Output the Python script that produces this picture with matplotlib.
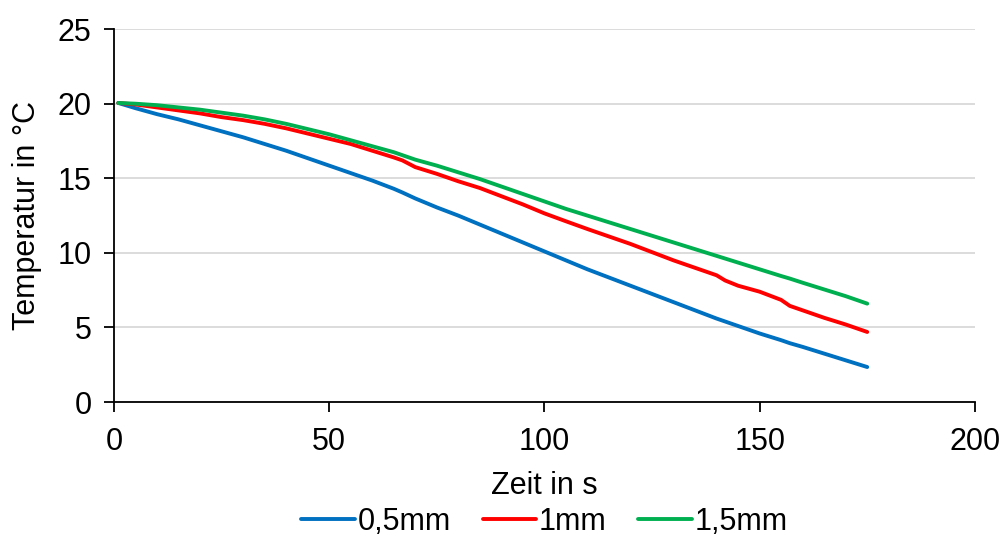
import matplotlib
matplotlib.use("Agg")
import matplotlib.pyplot as plt

plt.rcParams['font.family'] = ['Liberation Sans', 'DejaVu Sans']

# Time in seconds
zeit = [1, 5, 10, 15, 20, 25, 30, 35, 40, 45, 50, 55, 60, 65, 67, 70, 75, 80, 85,
        90, 95, 100, 105, 110, 115, 120, 125, 130, 135, 140, 142, 145, 150, 155,
        157, 160, 165, 170, 175]

# Temperatures in °C for each plate thickness
temp_05 = [20.05, 19.7, 19.3, 18.95, 18.55, 18.15, 17.75, 17.3, 16.85, 16.35, 15.85,
           15.35, 14.85, 14.3, 14.05, 13.65, 13.05, 12.5, 11.9, 11.3, 10.7, 10.1,
           9.5, 8.9, 8.35, 7.8, 7.25, 6.7, 6.15, 5.6, 5.4, 5.1, 4.6, 4.15, 3.95,
           3.7, 3.25, 2.8, 2.35]
temp_10 = [20.05, 19.95, 19.75, 19.55, 19.35, 19.1, 18.9, 18.65, 18.35, 18.0, 17.65,
           17.3, 16.85, 16.4, 16.2, 15.75, 15.3, 14.8, 14.35, 13.8, 13.25, 12.65,
           12.12, 11.6, 11.1, 10.6, 10.05, 9.5, 9.0, 8.5, 8.15, 7.8, 7.4, 6.85,
           6.45, 6.15, 5.65, 5.2, 4.7]
temp_15 = [20.05, 20.0, 19.9, 19.75, 19.6, 19.4, 19.2, 18.95, 18.65, 18.3, 17.95,
           17.55, 17.15, 16.75, 16.55, 16.25, 15.85, 15.4, 14.95, 14.45, 13.95, 13.45,
           12.95, 12.5, 12.05, 11.6, 11.15, 10.7, 10.25, 9.8, 9.62, 9.35, 8.9, 8.45,
           8.28, 8.0, 7.55, 7.1, 6.6]

labels = ['0,5mm', '1mm', '1,5mm']
colors = ['#0070C0', '#FF0000', '#00B050']

x_ticks = [0, 50, 100, 150, 200]
y_ticks = [0, 5, 10, 15, 20, 25]

fig = plt.figure(figsize=(10.05, 5.39), dpi=100)
ax = fig.add_axes([0.1134, 0.254, 0.8566, 0.692])

for series, lab, col in zip([temp_05, temp_10, temp_15], labels, colors):
    ax.plot(zeit, series, color=col, lw=2.8, label=lab, solid_capstyle='round')

ax.set_xlim(0, 200)
ax.set_ylim(0, 25)
ax.set_xticks(x_ticks)
ax.set_yticks(y_ticks)

ax.yaxis.grid(True, color='#D9D9D9', lw=1.3)
ax.set_axisbelow(True)

for side in ['top', 'right']:
    ax.spines[side].set_visible(False)
for side in ['left', 'bottom']:
    ax.spines[side].set_color('black')
    ax.spines[side].set_linewidth(1.3)

ax.tick_params(axis='both', direction='out', length=7, width=1.3,
               labelsize=22, color='black', pad=9)
ax.tick_params(axis='x', pad=11)

ax.set_xlabel('Zeit in s', fontsize=22, labelpad=10)
ax.set_ylabel('Temperatur in °C', fontsize=22, labelpad=11)

ax.legend(loc='upper center', bbox_to_anchor=(0.5, -0.273), ncol=3,
          frameon=False, fontsize=22, handlelength=1.75, handletextpad=0.08,
          columnspacing=1.05, borderaxespad=0, borderpad=0.1)

fig.savefig('out.png', dpi=100)
